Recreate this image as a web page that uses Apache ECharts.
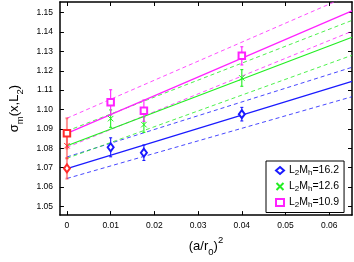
<!DOCTYPE html>
<html><head><meta charset="utf-8">
<script src="https://cdn.jsdelivr.net/npm/echarts@6/dist/echarts.min.js"></script>
<style>html,body{margin:0;padding:0;background:#fff}#c{width:354px;height:262px}</style>
</head><body><div id="c"></div>
<script>
// ---- data ----
const xTicks = [0, 0.01, 0.02, 0.03, 0.04, 0.05, 0.06];
const yTicks = [1.05, 1.06, 1.07, 1.08, 1.09, 1.10, 1.11, 1.12, 1.13, 1.14, 1.15];
const xVals = [0.01, 0.0176, 0.04];
const names = ['L2Mh=16.2', 'L2Mh=12.6', 'L2Mh=10.9'];
const blueY = [1.0805, 1.0777, 1.0976];
const blueErr = [0.0049, 0.0040, 0.0035];
const greenY = [1.0953, 1.0922, 1.1163];
const greenErr = [0.0045, 0.0040, 0.0043];
const magentaY = [1.1037, 1.0994, 1.1277];
const magentaErr = [0.0065, 0.0055, 0.0047];
// extrapolated values at (a/r0)^2 = 0
const extrapY = [1.0696, 1.0813, 1.0877];
const extrapErr = [0.0053, 0.0065, 0.0078];
// fit lines (value at x = 0 and at right end)
const fitX = [0, 0.0652];
const blueFit = [1.0695, 1.1145], blueUp = [1.0755, 1.1218], blueLo = [1.0644, 1.1066];
const greenFit = [1.0813, 1.1373], greenUp = [1.0889, 1.1460], greenLo = [1.0748, 1.1280];
const magentaFit = [1.0877, 1.1509], magentaUp = [1.0955, 1.1595], magentaLo = [1.0805, 1.1404];

const FONT = 'Liberation Sans';
const colors = ['#1a1aff', '#22ee22', '#ff22ff'];
const red = '#ff2a2a';
const xPath = 'path://M0,0L10,10M10,0L0,10';
const symbols = ['emptyDiamond', xPath, 'emptyRect'];
const symSizes = [[6, 8], 5.5, 6.5];

function pairs(xs, ys) { return xs.map((x, i) => [x, ys[i]]); }
function errData(xs, ys, es) { return xs.map((x, i) => [x, ys[i] - es[i], ys[i] + es[i]]); }

function errSeries(data, color, width) {
  return {
    type: 'custom', silent: true, z: 3,
    data: data,
    encode: { x: 0, y: [1, 2] },
    renderItem: function (params, api) {
      const x = api.value(0), lo = api.value(1), hi = api.value(2);
      const a = api.coord([x, lo]), b = api.coord([x, hi]);
      const st = { stroke: color, lineWidth: width };
      return { type: 'group', children: [
        { type: 'line', shape: { x1: a[0], y1: a[1], x2: b[0], y2: b[1] }, style: st },
        { type: 'line', shape: { x1: a[0] - 1.5, y1: a[1], x2: a[0] + 1.5, y2: a[1] }, style: st },
        { type: 'line', shape: { x1: b[0] - 1.5, y1: b[1], x2: b[0] + 1.5, y2: b[1] }, style: st }
      ]};
    }
  };
}
function lineSeries(ys, color, dashed) {
  return {
    type: 'line', silent: true, symbol: 'none', z: dashed ? 1 : 2,
    data: pairs(fitX, ys),
    lineStyle: { color: color, width: dashed ? 1 : 1.2, type: dashed ? [4, 3] : 'solid', opacity: dashed ? 0.8 : 1 }
  };
}

const sets = [
  { y: blueY, e: blueErr, fit: blueFit, up: blueUp, lo: blueLo },
  { y: greenY, e: greenErr, fit: greenFit, up: greenUp, lo: greenLo },
  { y: magentaY, e: magentaErr, fit: magentaFit, up: magentaUp, lo: magentaLo }
];

const series = [];
sets.forEach((s, i) => {
  series.push(lineSeries(s.up, colors[i], true));
  series.push(lineSeries(s.lo, colors[i], true));
  series.push(lineSeries(s.fit, colors[i], false));
  series.push(errSeries(errData(xVals, s.y, s.e), colors[i], 1.1));
});
sets.forEach((s, i) => {
  series.push(errSeries([[0, extrapY[i] - extrapErr[i], extrapY[i] + extrapErr[i]]], 'rgba(255,60,60,0.55)', 2));
});
sets.forEach((s, i) => {
  series.push({
    name: names[i], type: 'scatter', z: 5, silent: true,
    symbol: symbols[i], symbolSize: symSizes[i],
    data: pairs(xVals, s.y),
    itemStyle: { color: colors[i], borderColor: colors[i], borderWidth: 1, opacity: 1 }
  });
  series.push({
    type: 'scatter', z: 5, silent: true,
    symbol: symbols[i], symbolSize: symSizes[i],
    data: [[0, extrapY[i]]],
    itemStyle: { color: red, borderColor: red, borderWidth: 1, opacity: 1 }
  });
});

const axisLine = { show: true, onZero: false, lineStyle: { color: '#000', width: 1.5 } };
const tickStyle = { lineStyle: { color: '#000', width: 1 } };
const chart = echarts.init(document.getElementById('c'), null, { renderer: 'canvas' });
chart.setOption({
  animation: false,
  backgroundColor: '#fff',
  grid: { left: 53, right: 2, top: 2, bottom: 43, containLabel: false },
  xAxis: [{
    type: 'value', min: -0.0016, max: 0.0652, position: 'bottom',
    axisLine: axisLine,
    axisTick: Object.assign({ show: true, inside: true, length: 4, customValues: xTicks }, tickStyle),
    axisLabel: { show: true, customValues: xTicks, margin: 6, color: '#000', fontSize: 8.5, fontFamily: FONT,
      formatter: v => String(+(+v).toFixed(2)) },
    splitLine: { show: false },
    name: '{n|(a/r}{sb|0}{n|)}{sp|2}', nameLocation: 'middle', nameGap: 17,
    nameTextStyle: { color: '#000', fontFamily: FONT, rich: {
      n: { fontSize: 13, fontFamily: FONT, color: '#000', lineHeight: 22 },
      sb: { fontSize: 9.5, fontFamily: FONT, color: '#000', lineHeight: 10, verticalAlign: 'bottom' },
      sp: { fontSize: 9.5, fontFamily: FONT, color: '#000', lineHeight: 10, verticalAlign: 'top' }
    } }
  }, {
    type: 'value', min: -0.0016, max: 0.0652, position: 'top',
    axisLine: axisLine,
    axisTick: Object.assign({ show: true, inside: true, length: 4, customValues: xTicks }, tickStyle),
    axisLabel: { show: false }, splitLine: { show: false }
  }],
  yAxis: [{
    type: 'value', min: 1.0455, max: 1.1555, position: 'left',
    axisLine: axisLine,
    axisTick: Object.assign({ show: true, inside: true, length: 4, customValues: yTicks }, tickStyle),
    axisLabel: { show: true, customValues: yTicks, margin: 7, color: '#000', fontSize: 8.5, fontFamily: FONT,
      formatter: v => (+v).toFixed(2) },
    splitLine: { show: false },
    name: '{n|σ}{sb|m}{n|(x,L}{sb|2}{n|)}', nameLocation: 'middle', nameRotate: 90, nameGap: 30,
    nameTextStyle: { color: '#000', fontFamily: FONT, rich: {
      n: { fontSize: 13, fontFamily: FONT, color: '#000', lineHeight: 22 },
      sb: { fontSize: 9.5, fontFamily: FONT, color: '#000', lineHeight: 10, verticalAlign: 'bottom' }
    } }
  }, {
    type: 'value', min: 1.0455, max: 1.1555, position: 'right',
    axisLine: axisLine,
    axisTick: Object.assign({ show: true, inside: true, length: 4, customValues: yTicks }, tickStyle),
    axisLabel: { show: false }, splitLine: { show: false }
  }],
  legend: {
    data: names, orient: 'vertical', left: 266, top: 161,
    padding: [4, 5, 4, 9], itemGap: 4.5, itemWidth: 8, itemHeight: 7,
    backgroundColor: '#fff', borderColor: '#000', borderWidth: 1, z: 10,
    selectedMode: false,
    formatter: n => '{a|L}{b|2}{a|M}{b|h}{a|=' + n.split('=')[1] + '}',
    textStyle: { color: '#000', fontFamily: FONT, rich: {
      a: { fontSize: 10.5, fontFamily: FONT, color: '#000', lineHeight: 12 },
      b: { fontSize: 8, fontFamily: FONT, color: '#000', lineHeight: 6, verticalAlign: 'bottom' }
    } }
  },
  series: series
});
</script></body></html>
